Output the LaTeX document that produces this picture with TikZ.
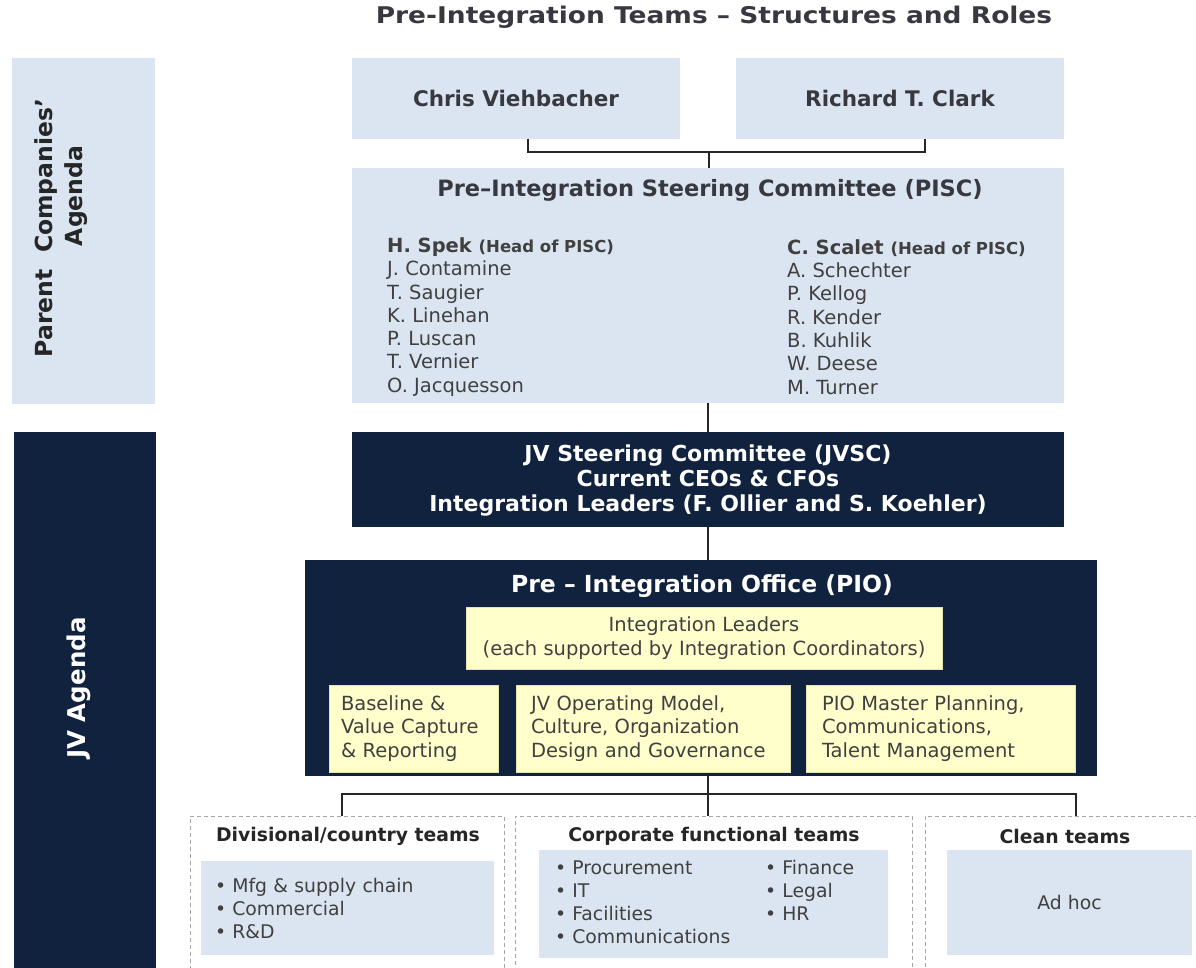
\documentclass[tikz,border=0pt]{standalone}
\usepackage{fontspec}
\setmainfont{DejaVu Sans}
\newfontfamily\widefont{DejaVu Sans}[FakeStretch=1.15]
\usepackage{tikz}

\definecolor{boxblue}{HTML}{DBE5F1}
\definecolor{navy}{HTML}{10223E}
\definecolor{paleyellow}{HTML}{FFFFCC}
\definecolor{yellowline}{HTML}{E4E4B4}
\definecolor{ink}{HTML}{383840}
\definecolor{namegray}{HTML}{404040}
\definecolor{dashgray}{HTML}{A6A6A6}
\definecolor{linegray}{HTML}{262626}

\newcommand{\fsz}[2]{\fontsize{#1}{#2}\selectfont}

\begin{document}
\begin{tikzpicture}[x=1pt, y=-1pt,
    bluebox/.style={fill=boxblue, inner sep=0pt},
    navybox/.style={fill=navy, inner sep=0pt},
    ybox/.style={fill=paleyellow, draw=yellowline, line width=0.6pt, inner sep=0pt, text=namegray, font=\fsz{19.5}{23.3}},
    teambox/.style={draw=dashgray, line width=0.9pt, dash pattern=on 4pt off 3pt, minimum height=174pt},
    conn/.style={draw=linegray, line width=1.4pt},
    headtext/.style={font=\bfseries\fsz{21.5}{26}, text=ink},
    namelist/.style={anchor=west, inner sep=0pt, align=left, text=namegray, font=\fsz{19.5}{23.3}},
    teamtitle/.style={font=\bfseries\fsz{18.8}{22}, text=black!85},
    bullets/.style={text=namegray, font=\fsz{18.8}{23}}]
  \useasboundingbox (0,0) rectangle (1196,967);
  \clip (0,0) rectangle (1196,967);

  \node[anchor=base, font=\widefont\bfseries\fsz{23}{26}, text=ink] (title) at (714,23) {Pre-Integration Teams – Structures and Roles};

  \node[bluebox, minimum width=346pt, minimum height=143pt, rotate=90] (parent) at (83.5,231) {};
  \node[rotate=90, align=center, font=\bfseries\fsz{23.5}{30}, text=black!85] (parentlbl) at (61,228) {Parent\ \ Companies’\\\hspace*{64pt}Agenda};
  \node[navybox, minimum width=558pt, minimum height=142pt, rotate=90] (jvbar) at (85,711) {};
  \node[rotate=90, font=\bfseries\fsz{24.5}{30}, text=white] (jvlbl) at (79,688) {JV Agenda};

  \node[bluebox, minimum width=328pt, minimum height=81pt, headtext] (chris) at (516,98) {Chris Viehbacher};
  \node[bluebox, minimum width=328pt, minimum height=81pt, headtext] (richard) at (900,98) {Richard T. Clark};
  \node[bluebox, minimum width=712pt, minimum height=235pt] (pisc) at (708,285.5) {};
  \node[font=\bfseries\fsz{22.5}{26}, text=ink] (pisctitle) at (710,190) {Pre–Integration Steering Committee (PISC)};
  \node[namelist] (spekcol) at (387,317) {{\bfseries H. Spek {\fsz{16.5}{23.3}(Head of PISC)}}\\J. Contamine\\T. Saugier\\K. Linehan\\P. Luscan\\T. Vernier\\O. Jacquesson};
  \node[namelist] (scaletcol) at (787,317) {{\bfseries C. Scalet {\fsz{16.5}{23.3}(Head of PISC)}}\\A. Schechter\\P. Kellog\\R. Kender\\B. Kuhlik\\W. Deese\\M. Turner};

  \coordinate (join) at (709,152);
  \draw[conn] ([xshift=12pt]chris.south) |- (join) -| ([xshift=25pt]richard.south);
  \draw[conn] (join) -- (join |- pisc.north);

  \node[navybox, minimum width=712pt, minimum height=95pt, align=center, text=white, font=\bfseries\fsz{22}{25}] (jvsc) at (708,479.5) {\rule{0pt}{19pt}JV Steering Committee (JVSC)\\Current CEOs \& CFOs\\Integration Leaders (F. Ollier and S. Koehler)};
  \draw[conn] (pisc) -- (jvsc);

  \node[navybox, minimum width=792pt, minimum height=216pt] (pio) at (701,668) {};
  \draw[conn] (jvsc.south) -- (jvsc.south |- pio.north);
  \node[font=\bfseries\fsz{23.5}{28}, text=white] (piotitle) at (702,586) {Pre – Integration Office (PIO)};
  \node[ybox, minimum width=476pt, minimum height=62pt, align=center, font=\fsz{19.5}{24}] (leaders) at (704,638) {Integration Leaders\\(each supported by Integration Coordinators)};
  \node[ybox, minimum height=87pt, text width=145pt, inner xsep=12pt, align=left] (baseline) at (413.5,728.5) {Baseline \&\\Value Capture\\\& Reporting};
  \node[ybox, minimum height=87pt, text width=244pt, inner xsep=15pt, align=left] (opmodel) at (653,728.5) {JV Operating Model,\\Culture, Organization\\Design and Governance};
  \node[ybox, minimum height=87pt, text width=237pt, inner xsep=16pt, align=left] (planning) at (940.5,728.5) {PIO Master Planning,\\Communications,\\Talent Management};

  \node[teambox, minimum width=314pt] (divteam) at (347,903) {};
  \node[teambox, minimum width=397pt] (corpteam) at (713.5,903) {};
  \node[teambox, minimum width=305pt] (cleanteam) at (1077.5,903) {};
  \coordinate (fork) at (708,794);
  \draw[conn] (pio.south -| fork) -- (fork);
  \draw[conn] ([xshift=-5pt]divteam.north) |- (fork) -| ([xshift=-1.5pt]cleanteam.north);
  \draw[conn] (fork) -- (fork |- corpteam.north);

  \node[teamtitle] (divtitle) at (348,836) {Divisional/country teams};
  \node[teamtitle] (corptitle) at (714,836) {Corporate functional teams};
  \node[teamtitle] (cleantitle) at (1065,836) {Clean teams};
  \node[bluebox, bullets, minimum height=94pt, text width=265pt, inner xsep=14pt, align=left] (divlist) at (347.5,908) {• Mfg \& supply chain\\• Commercial\\• R\&D};
  \node[bluebox, bullets, minimum height=108pt, text width=317pt, inner xsep=16pt, align=left] (corplist) at (713.5,904) {\begin{tabular}{@{}p{210pt}@{}l@{}}• Procurement & • Finance\\• IT & • Legal\\• Facilities & • HR\\• Communications & \end{tabular}};
  \node[bluebox, bullets, minimum width=245pt, minimum height=105pt] (cleanlist) at (1069.5,902.5) {Ad hoc};
\end{tikzpicture}
\end{document}
